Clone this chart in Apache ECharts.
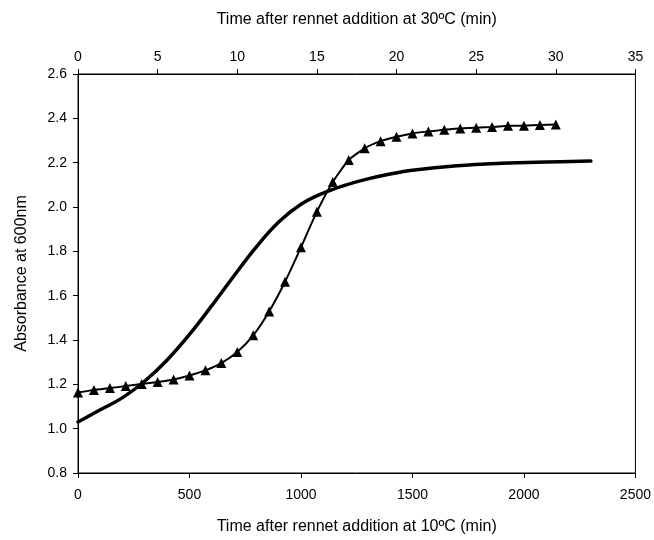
<!DOCTYPE html>
<html>
<head>
<meta charset="utf-8">
<script src="https://cdn.jsdelivr.net/npm/echarts@6/dist/echarts.min.js"></script>
<style>
  html, body { margin: 0; padding: 0; background: #fff; }
  #chart { width: 654px; height: 540px; }
</style>
</head>
<body>
<div id="chart"></div>
<script>
// 10°C 曲线 (下方横轴, min)
const minutes10 = [0, 100, 200, 300, 400, 500, 600, 700, 800, 900, 1000, 1100, 1200, 1300, 1400, 1500, 1700, 1900, 2100, 2300];
const absorb10 = [1.03, 1.085, 1.14, 1.215, 1.31, 1.425, 1.555, 1.69, 1.82, 1.932, 2.012, 2.063, 2.099, 2.127, 2.149, 2.166, 2.186, 2.197, 2.203, 2.207];

// 30°C 三角形数据 (上方横轴, min)
const minutes30 = [0, 1, 2, 3, 4, 5, 6, 7, 8, 9, 10, 11, 12, 13, 14, 15, 16, 17, 18, 19, 20, 21, 22, 23, 24, 25, 26, 27, 28, 29, 30];
const absorb30 = [1.163, 1.175, 1.183, 1.192, 1.202, 1.211, 1.222, 1.240, 1.263, 1.296, 1.346, 1.421, 1.529, 1.663, 1.818, 1.979,
  2.113, 2.212, 2.265, 2.297, 2.317, 2.332, 2.341, 2.349, 2.354, 2.358, 2.361, 2.366, 2.367, 2.370, 2.372];

const font = 'Liberation Sans, Arial, sans-serif';
const black = '#000';

const chart = echarts.init(document.getElementById('chart'));

const axisCommon = {
  axisLine: { show: true, lineStyle: { color: black, width: 1 } },
  axisTick: { show: true, inside: false, length: 5, lineStyle: { color: black } },
  splitLine: { show: false },
  nameLocation: 'middle',
  nameTextStyle: { color: black, fontSize: 16, fontFamily: font },
};

chart.setOption({
  animation: false,
  backgroundColor: '#fff',
  grid: {
    left: 78, right: 18, top: 74, bottom: 64,
    show: true, borderColor: black, borderWidth: 1, backgroundColor: 'transparent',
  },
  xAxis: [
    {
      ...axisCommon,
      type: 'value', position: 'bottom',
      min: 0, max: 2500, interval: 500,
      name: 'Time after rennet addition at 10ºC (min)',
      nameGap: 46,
      axisLabel: { color: black, fontSize: 14, fontFamily: font, margin: 15, formatter: v => String(v) },
    },
    {
      ...axisCommon,
      type: 'value', position: 'top',
      min: 0, max: 35, interval: 5,
      name: 'Time after rennet addition at 30ºC (min)',
      nameGap: 46,
      axisLabel: { color: black, fontSize: 14, fontFamily: font, margin: 10 },
    },
  ],
  yAxis: {
    ...axisCommon,
    type: 'value',
    min: 0.8, max: 2.6, interval: 0.2,
    name: 'Absorbance at 600nm',
    nameGap: 48,
    axisLabel: {
      color: black, fontSize: 14, fontFamily: font, margin: 11,
      formatter: v => v.toFixed(1),
    },
  },
  series: [
    {
      name: '10ºC',
      type: 'line',
      xAxisIndex: 0,
      smooth: 0.4,
      showSymbol: false,
      data: minutes10.map((m, i) => [m, absorb10[i]]),
      lineStyle: { color: black, width: 3.5, cap: 'round' },
    },
    {
      name: '30ºC',
      type: 'line',
      xAxisIndex: 1,
      smooth: 0.2,
      symbol: 'triangle',
      symbolSize: 10,
      data: minutes30.map((m, i) => [m, absorb30[i]]),
      itemStyle: { color: black },
      lineStyle: { color: black, width: 2 },
    },
  ],
});
</script>
</body>
</html>
